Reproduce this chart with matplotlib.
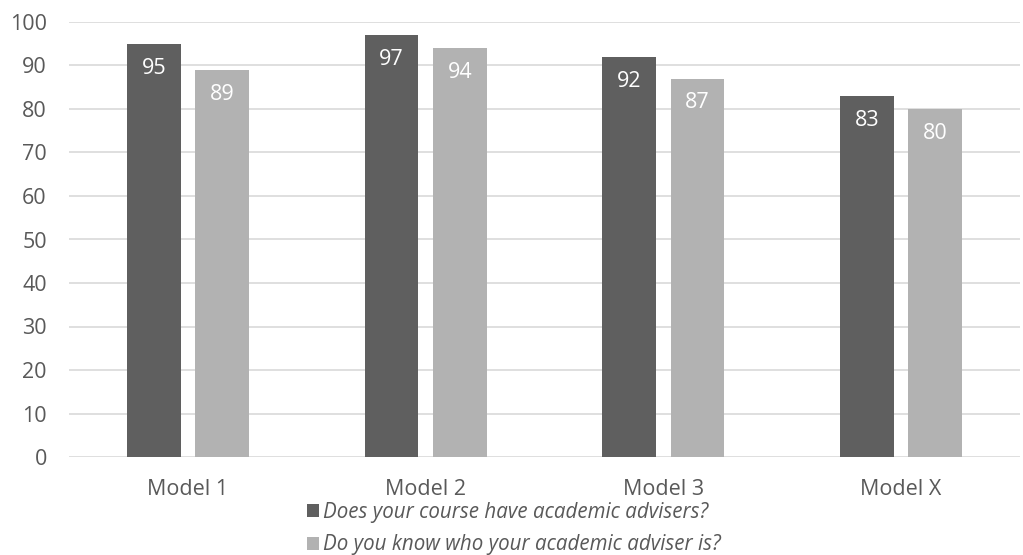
import numpy as np
import matplotlib.pyplot as plt
from matplotlib.patches import Patch

plt.rcParams['font.family'] = ['Open Sans', 'DejaVu Sans']

models = ["Model 1", "Model 2", "Model 3", "Model X"]
has_advisers = [95, 97, 92, 83]
knows_adviser = [89, 94, 87, 80]
series_names = ["Does your course have academic advisers?",
                "Do you know who your academic adviser is?"]
colors = ["#5f5f5f", "#b2b2b2"]
fs = 15.5

fig = plt.figure(figsize=(10.23, 5.55), dpi=100)
ax = fig.add_axes([69 / 1023, 1 - 457 / 555, 951 / 1023, 435 / 555])

x = np.arange(len(models))
w = 0.227
pos1 = x - 0.03 - w / 2
pos2 = x + 0.03 + w / 2

for pos, vals, col in [(pos1, has_advisers, colors[0]), (pos2, knows_adviser, colors[1])]:
    bars = ax.bar(pos, vals, width=w, color=col, zorder=2)
    for b, v in zip(bars, vals):
        ax.annotate(f"{v}", (b.get_x() + b.get_width() / 2, v),
                    xytext=(0, -10), textcoords="offset points",
                    ha="center", va="top", color="white", fontsize=fs)

ax.set_xlim(-0.5, len(models) - 0.5)
ax.set_ylim(0, 100)
ax.set_yticks(range(0, 101, 10))
ax.set_xticks(x)
ax.set_xticklabels(models)
ax.yaxis.grid(True, color="#d9d9d9", linewidth=1.2, zorder=0)
ax.set_axisbelow(True)
for s in ax.spines.values():
    s.set_visible(False)
ax.tick_params(axis="both", length=0, labelsize=fs, labelcolor="#595959")
ax.tick_params(axis="y", pad=16)
ax.tick_params(axis="x", pad=16)

handles = [Patch(facecolor=c, edgecolor="none") for c in colors]
leg = fig.legend(handles, series_names, loc="upper left",
                 bbox_to_anchor=(307 / 1023, 1 - 502 / 555), frameon=False,
                 handlelength=0.6, handleheight=0.6, handletextpad=0.2,
                 labelspacing=0.55, borderaxespad=0, borderpad=0,
                 prop={"style": "italic", "size": 14.8})
for t in leg.get_texts():
    t.set_color("#595959")

fig.savefig("out.png", dpi=100)
